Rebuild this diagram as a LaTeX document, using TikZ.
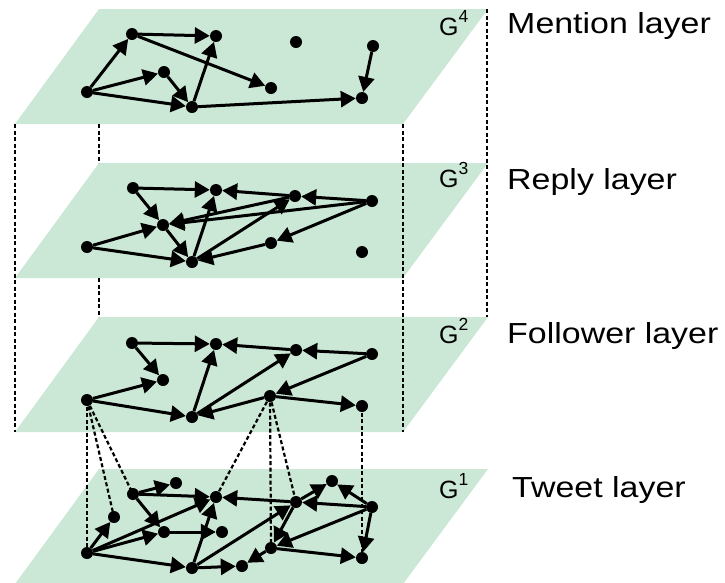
\documentclass[tikz,border=0pt]{standalone}
\usepackage{fontspec}
\newfontfamily\labfont{Liberation Sans}
\usetikzlibrary{arrows.meta}
\definecolor{plane}{RGB}{203,231,213}
\pgfdeclarelayer{bg}
\pgfdeclarelayer{mid}
\pgfsetlayers{bg,mid,main}
\tikzset{
  vtx/.style={circle,fill=black,inner sep=0pt,minimum size=12pt},
  edge/.style={line width=3pt,-{Triangle[length=15pt,width=16pt]}},
  link/.style={line width=2.2pt,dash pattern=on 4pt off 2.5pt},
  glabel/.style={font=\labfont\fontsize{25}{25}\selectfont,anchor=base west,inner sep=0pt},
  layerlabel/.style={font=\labfont\fontsize{29}{29}\selectfont,anchor=base west,inner sep=0pt,xscale=1.17}
}
\begin{document}
\begin{tikzpicture}[x=1pt,y=-1pt]
\useasboundingbox (0,0) rectangle (725,582);
\begin{pgfonlayer}{bg}
\foreach \t in {9,163,317,469}{
  \fill[plane] (99,\t) -- (488,\t) -- (403,\t+115) -- (15,\t+115) -- cycle;
}
\end{pgfonlayer}
% labels
\node[glabel] (g4) at (439,35) {G\raisebox{3pt}{\textsuperscript{4}}};
\node[glabel] (g3) at (439,187) {G\raisebox{3pt}{\textsuperscript{3}}};
\node[glabel] (g2) at (439,343) {G\raisebox{3pt}{\textsuperscript{2}}};
\node[glabel] (g1) at (439,498) {G\raisebox{3pt}{\textsuperscript{1}}};
\node[layerlabel] (l4) at (507,33) {Mention layer};
\node[layerlabel] (l3) at (507,189) {Reply layer};
\node[layerlabel] (l2) at (507,343) {Follower layer};
\node[layerlabel] (l1) at (512,497) {Tweet layer};
% box corners
\coordinate (b1a) at (15,124); \coordinate (b1b) at (15,432);
\coordinate (b2a) at (99,124); \coordinate (b2b) at (99,163);
\coordinate (b3a) at (99,278); \coordinate (b3b) at (99,317);
\coordinate (b4a) at (403,124); \coordinate (b4b) at (403,432);
\coordinate (b5a) at (487,9); \coordinate (b5b) at (487,317);
% layer 4 nodes
\node[vtx] (a) at (132,34) {};
\node[vtx] (b) at (216,36) {};
\node[vtx] (c) at (296,42) {};
\node[vtx] (d) at (373,46) {};
\node[vtx] (e) at (164,72) {};
\node[vtx] (f) at (87,92) {};
\node[vtx] (g) at (271,88) {};
\node[vtx] (h) at (192,107) {};
\node[vtx] (i) at (362,98) {};
% layer 3 nodes
\node[vtx] (p1) at (133,188) {};
\node[vtx] (p2) at (216,190) {};
\node[vtx] (p3) at (295,196) {};
\node[vtx] (p4) at (372,201) {};
\node[vtx] (p5) at (163,225) {};
\node[vtx] (p6) at (87,247) {};
\node[vtx] (p7) at (271,243) {};
\node[vtx] (p8) at (362,252) {};
\node[vtx] (p9) at (192,262) {};
% layer 2 nodes
\node[vtx] (q1) at (132,343) {};
\node[vtx] (q2) at (216,344) {};
\node[vtx] (q3) at (296,350) {};
\node[vtx] (q4) at (372,354) {};
\node[vtx] (q5) at (163,380) {};
\node[vtx] (q6) at (87,400) {};
\node[vtx] (q7) at (270,396) {};
\node[vtx] (q8) at (362,406) {};
\node[vtx] (q9) at (192,417) {};
% layer 1 nodes
\node[vtx] (t1) at (133,494) {};
\node[vtx] (ta) at (176,483) {};
\node[vtx] (t2) at (216,497) {};
\node[vtx] (ts) at (114,517) {};
\node[vtx] (t5) at (164,532) {};
\node[vtx] (tb) at (222,532) {};
\node[vtx] (t6) at (87,553) {};
\node[vtx] (t9) at (192,568) {};
\node[vtx] (tc) at (242,566) {};
\node[vtx] (td) at (332,481) {};
\node[vtx] (t3) at (296,502) {};
\node[vtx] (t4) at (372,507) {};
\node[vtx] (t7) at (271,548) {};
\node[vtx] (t8) at (362,558) {};
\begin{pgfonlayer}{mid}
% dashed box
\draw[link] (b1a) -- (b1b);
\draw[link] (b2a) -- (b2b);
\draw[link] (b3a) -- (b3b);
\draw[link] (b4a) -- (b4b);
\draw[link] (b5a) -- (b5b);
% inter-layer dashed links
\draw[link] (q6.center) -- (t6.center);
\draw[link] (q6.center) -- (ts.center);
\draw[link] (q6.center) -- (t1.center);
\draw[link] (q7.center) -- (t2.center);
\draw[link] (q7.center) -- (t7.center);
\draw[link] (q7.center) -- (t3.center);
\draw[link] (q8.center) -- (t8.center);
% layer 4 edges
\draw[edge] (f) -- (a);
\draw[edge] (a) -- (b);
\draw[edge] (a) -- (g);
\draw[edge] (f) -- (e);
\draw[edge] (e) -- (h);
\draw[edge] (f) -- (h);
\draw[edge] (h) -- (b);
\draw[edge] (h) -- (i);
\draw[edge] (d) -- (i);
% layer 3 edges
\draw[edge] (p1) -- (p2);
\draw[edge] (p3) -- (p2);
\draw[edge] (p4) -- (p3);
\draw[edge] (p1) -- (p5);
\draw[edge] (p6) -- (p5);
\draw[edge] (p3) -- (p5);
\draw[edge] (p4) -- (p5);
\draw[edge] (p6) -- (p9);
\draw[edge] (p5) -- (p9);
\draw[edge] (p9) -- (p2);
\draw[edge] (p9) -- (p3);
\draw[edge] (p4) -- (p7);
\draw[edge] (p7) -- (p9);
% layer 2 edges
\draw[edge] (q1) -- (q2);
\draw[edge] (q3) -- (q2);
\draw[edge] (q4) -- (q3);
\draw[edge] (q1) -- (q5);
\draw[edge] (q6) -- (q5);
\draw[edge] (q6) -- (q9);
\draw[edge] (q9) -- (q2);
\draw[edge] (q9) -- (q3);
\draw[edge] (q7) -- (q9);
\draw[edge] (q4) -- (q7);
\draw[edge] (q7) -- (q8);
% layer 1 edges
\draw[edge] (t1) -- (ta);
\draw[edge] (t1) -- (t2);
\draw[edge] (t1) -- (t5);
\draw[edge] (t6) -- (ts);
\draw[edge] (t6) -- (t5);
\draw[edge] (t6) -- (t2);
\draw[edge] (t6) -- (t9);
\draw[edge] (t5) -- (tb);
\draw[edge] (t9) -- (t2);
\draw[edge] (t9) -- (tc);
\draw[edge] (t9) -- (t3);
\draw[edge] (t3) -- (t2);
\draw[edge] (t4) -- (t3);
\draw[edge] (t3) -- (td);
\draw[edge] (t4) -- (td);
\draw[edge] (t4) -- (t8);
\draw[edge] (t4) -- (t7);
\draw[edge] (t3) -- (t7);
\draw[edge] (t7) -- (t8);
\draw[edge] (t7) -- (tc);
\end{pgfonlayer}
\end{tikzpicture}
\end{document}
